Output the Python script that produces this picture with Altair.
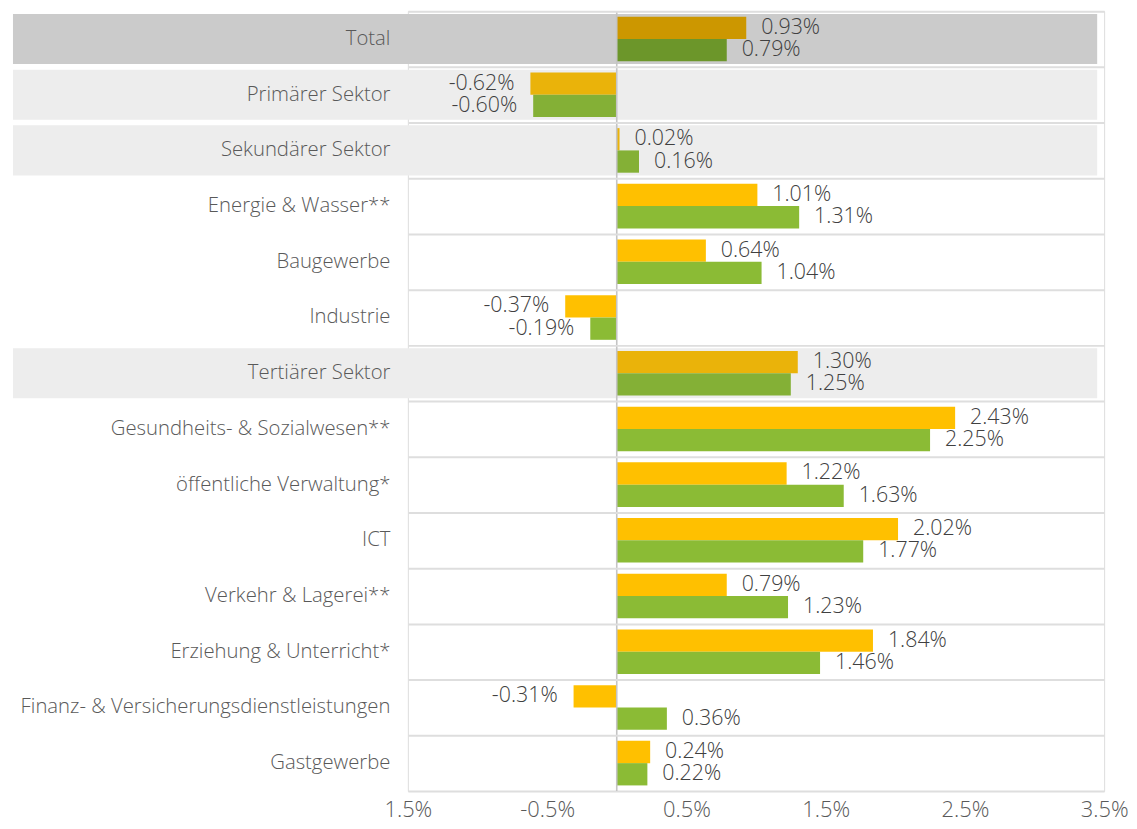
import altair as alt
import pandas as pd

categories = [
    "Total", "Primärer Sektor", "Sekundärer Sektor", "Energie & Wasser**",
    "Baugewerbe", "Industrie", "Tertiärer Sektor", "Gesundheits- & Sozialwesen**",
    "öffentliche Verwaltung*", "ICT", "Verkehr & Lagerei**",
    "Erziehung & Unterricht*", "Finanz- & Versicherungsdienstleistungen", "Gastgewerbe",
]
row_types = [
    "total", "sektor", "sektor", "branche", "branche", "branche", "sektor",
    "branche", "branche", "branche", "branche", "branche", "branche", "branche",
]
series_names = ["Reihe 1", "Reihe 2"]
values_1 = [0.93, -0.62, 0.02, 1.01, 0.64, -0.37, 1.30, 2.43, 1.22, 2.02, 0.79, 1.84, -0.31, 0.24]
values_2 = [0.79, -0.60, 0.16, 1.31, 1.04, -0.19, 1.25, 2.25, 1.63, 1.77, 1.23, 1.46, 0.36, 0.22]
tick_values = [-1.5, -0.5, 0.5, 1.5, 2.5, 3.5]
tick_labels = ["1.5%", "-0.5%", "0.5%", "1.5%", "2.5%", "3.5%"]

rows = []
for cat, typ, v1, v2 in zip(categories, row_types, values_1, values_2):
    for s, v in zip(series_names, (v1, v2)):
        rows.append({"Kategorie": cat, "Typ": typ, "Serie": s, "Wert": v,
                     "Schluessel": s + "|" + typ})
df = pd.DataFrame(rows)
bg_df = pd.DataFrame({"Kategorie": categories, "Typ": row_types})
bg_df = bg_df[bg_df["Typ"] != "branche"]

color_domain = [s + "|" + t for s in series_names for t in ["total", "sektor", "branche"]]
color_range = ["#CC9700", "#EAB30A", "#FFC000", "#6C962A", "#84B036", "#8BBB35"]

label_expr = ""
for v, l in zip(tick_values, tick_labels):
    label_expr += f"datum.value == {v} ? '{l}' : "
label_expr += "''"

W, H = 700, 784

y_enc = alt.Y(
    "Kategorie:N", sort=categories, title=None,
    scale=alt.Scale(paddingInner=0, paddingOuter=0),
    axis=alt.Axis(
        domain=False, ticks=False, labelPadding=18, labelFontSize=20.4,
        labelColor="#595959", labelFont="Open Sans", labelFontWeight=300,
        grid=True, bandPosition=0,
        gridColor="#DEDEDE", gridWidth=2, zindex=1, labelLimit=500,
    ),
)
x_scale = alt.Scale(domain=[-1.5, 3.5], nice=False)
x_enc = alt.X(
    "Wert:Q", scale=x_scale, title=None,
    axis=alt.Axis(
        values=tick_values, labelExpr=label_expr, grid=False, ticks=False,
        domainColor="#DEDEDE", domainWidth=2, labelFontSize=22, labelFontWeight=300,
        labelColor="#595959", labelFont="Open Sans", labelPadding=9,
        labelFlush=False,
    ),
)

bg = alt.Chart(bg_df).mark_bar(height={"band": 0.9}).encode(
    y=y_enc,
    x=alt.value(-397),
    x2=alt.value(693),
    fill=alt.Fill("Typ:N", scale=alt.Scale(domain=["total", "sektor"],
                                             range=["#CBCBCB", "#EDEDED"]), legend=None),
)

y_off = alt.YOffset("Serie:N", sort=series_names,
                    scale=alt.Scale(paddingInner=0, paddingOuter=0.25))

bars = alt.Chart(df).mark_bar().encode(
    y=y_enc,
    x=x_enc,
    yOffset=y_off,
    color=alt.Color("Schluessel:N", scale=alt.Scale(domain=color_domain, range=color_range),
                    legend=None),
)

base_text = alt.Chart(df).transform_calculate(
    Label="(datum.Wert < 0 ? '-' : '') + format(abs(datum.Wert), '.2f') + '%'"
)
text_pos = base_text.transform_filter("datum.Wert >= 0").mark_text(
    align="left", baseline="middle", dx=15, fontSize=21.5, fontWeight=300,
    color="#404040", font="Open Sans"
).encode(y=y_enc, x=alt.X("Wert:Q", scale=x_scale), yOffset=y_off, text="Label:N")
text_neg = base_text.transform_filter("datum.Wert < 0").mark_text(
    align="right", baseline="middle", dx=-16, fontSize=21.5, fontWeight=300,
    color="#404040", font="Open Sans"
).encode(y=y_enc, x=alt.X("Wert:Q", scale=x_scale), yOffset=y_off, text="Label:N")

zero = alt.Chart(pd.DataFrame({"z": [0]})).mark_rule(color="#C4C4C4", strokeWidth=1.6).encode(
    x=alt.X("z:Q", scale=x_scale),
    y=alt.value(0),
    y2=alt.value(H),
)

chart = alt.layer(bg, bars, text_pos, text_neg, zero).resolve_scale(
    color="independent", fill="independent"
).properties(
    width=W, height=H,
    padding={"left": 5, "top": 0, "right": 0, "bottom": 0},
).configure_view(stroke=None).configure(font="Open Sans")

chart.save("out.html", embed_options={"renderer": "svg", "actions": False})
